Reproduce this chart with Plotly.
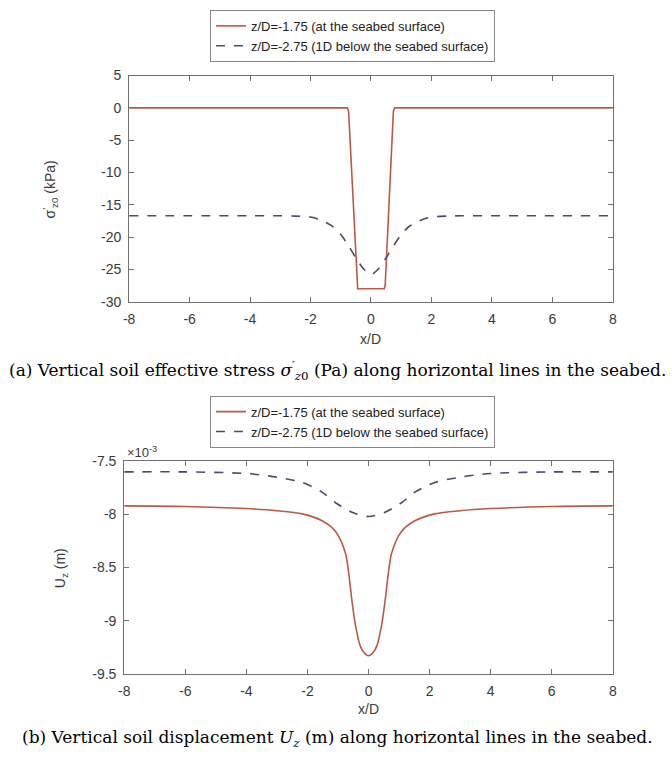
import plotly.graph_objects as go

W, H = 672, 763

# ---------- data (a): vertical effective stress (kPa) ----------
xa_surface = [-8, -2, -1, -0.78, -0.74, -0.6, -0.47, -0.44, 0, 0.44, 0.47, 0.6, 0.74, 0.78, 1, 2, 8]
sa_surface = [0, 0, 0, 0, -0.6, -14.5, -27.4, -28, -28, -28, -27.4, -14.5, -0.6, 0, 0, 0, 0]

xa_below = [-8, -4, -3, -2.5, -2, -1.75, -1.5, -1.25, -1, -0.75, -0.5, -0.25, 0,
            0.25, 0.5, 0.75, 1, 1.25, 1.5, 1.75, 2, 2.5, 3, 4, 8]
sa_below = [-16.7, -16.7, -16.7, -16.75, -16.9, -17.2, -17.7, -18.4, -19.6, -21.3, -23.2, -24.9, -25.8,
            -24.9, -23.2, -21.3, -19.6, -18.4, -17.7, -17.2, -16.9, -16.75, -16.7, -16.7, -16.7]

# ---------- data (b): vertical displacement (x 1e-3 m) ----------
xb_surface = [-8, -6, -4, -3, -2.17, -1.52, -1.08, -0.76, -0.65, -0.54, -0.43, -0.27, -0.12, 0,
              0.12, 0.27, 0.43, 0.54, 0.65, 0.76, 1.08, 1.52, 2.17, 3, 4, 6, 8]
ub_surface = [-7.92, -7.925, -7.945, -7.965, -7.995, -8.06, -8.16, -8.36, -8.55, -8.82, -9.04, -9.24, -9.31, -9.33,
              -9.31, -9.24, -9.04, -8.82, -8.55, -8.36, -8.16, -8.06, -7.995, -7.965, -7.945, -7.925, -7.92]

xb_below = [-8, -6, -4, -3, -2.17, -1.52, -1.08, -0.54, 0, 0.54, 1.08, 1.52, 2.17, 3, 4, 6, 8]
ub_below = [-7.6, -7.6, -7.615, -7.65, -7.7, -7.79, -7.89, -7.98, -8.02, -7.98, -7.89, -7.79, -7.7, -7.65, -7.615, -7.6, -7.6]

x_ticks = [-8, -6, -4, -2, 0, 2, 4, 6, 8]
x_ticklabels = ["-8", "-6", "-4", "-2", "0", "2", "4", "6", "8"]
ya_ticks = [5, 0, -5, -10, -15, -20, -25, -30]
ya_ticklabels = ["5", "0", "-5", "-10", "-15", "-20", "-25", "-30"]
yb_ticks = [-7.5, -8, -8.5, -9, -9.5]
yb_ticklabels = ["-7.5", "-8", "-8.5", "-9", "-9.5"]

name_surface = "z/D=-1.75 (at the seabed surface)"
name_below = "z/D=-2.75 (1D below the seabed surface)"

C_SOLID = "#BD5842"
C_DASH = "#4A4A6C"
AX = "#707070"
TXT = "#3a3a3a"
FONT = "Liberation Sans, Arial, sans-serif"
SERIF = "DejaVu Serif, serif"

fig = go.Figure()
fig.add_trace(go.Scatter(x=xa_surface, y=sa_surface, mode="lines", name=name_surface,
                         line=dict(color=C_SOLID, width=1.6), xaxis="x", yaxis="y", legend="legend"))
fig.add_trace(go.Scatter(x=xa_below, y=sa_below, mode="lines", name=name_below,
                         line=dict(color=C_DASH, width=1.6, dash="dash", shape="spline", smoothing=0.8),
                         xaxis="x", yaxis="y", legend="legend"))
fig.add_trace(go.Scatter(x=xb_surface, y=ub_surface, mode="lines", name=name_surface,
                         line=dict(color=C_SOLID, width=1.6, shape="spline", smoothing=0.8),
                         xaxis="x2", yaxis="y2", legend="legend2"))
fig.add_trace(go.Scatter(x=xb_below, y=ub_below, mode="lines", name=name_below,
                         line=dict(color=C_DASH, width=1.6, dash="dash", shape="spline", smoothing=0.8),
                         xaxis="x2", yaxis="y2", legend="legend2"))

def px_x(p):
    return p / W

def px_y(p):
    return 1 - p / H

axis_common = dict(showline=True, linecolor=AX, linewidth=1, mirror="ticks", ticks="inside",
                   ticklen=5, tickcolor=AX, showgrid=False, zeroline=False, ticklabelstandoff=4,
                   tickfont=dict(family=FONT, size=14, color=TXT))

legend_common = dict(xanchor="left", yanchor="top", xref="paper", yref="paper",
                     bgcolor="white", bordercolor="#888888", borderwidth=1,
                     font=dict(family=FONT, size=13, color="#222222"), tracegroupgap=0, itemwidth=30)

fig.update_layout(
    width=W, height=H, margin=dict(l=0, r=0, t=0, b=0),
    paper_bgcolor="white", plot_bgcolor="white",
    xaxis=dict(domain=[px_x(125), px_x(616)], range=[-8, 8], tickvals=x_ticks, ticktext=x_ticklabels,
               anchor="y", **axis_common),
    yaxis=dict(domain=[px_y(300), px_y(69)], range=[-30, 5], tickvals=ya_ticks, ticktext=ya_ticklabels,
               anchor="x", **axis_common),
    xaxis2=dict(domain=[px_x(120), px_x(616)], range=[-8, 8], tickvals=x_ticks, ticktext=x_ticklabels,
                anchor="y2", **axis_common),
    yaxis2=dict(domain=[px_y(680), px_y(463)], range=[-9.5, -7.5], tickvals=yb_ticks,
                ticktext=yb_ticklabels, anchor="x2", **axis_common),
    legend=dict(x=px_x(207), y=px_y(2), **legend_common),
    legend2=dict(x=px_x(207), y=px_y(396), **legend_common),
    showlegend=True,
)

annos = [
    dict(text="x/D", x=px_x(370), y=px_y(338), font=dict(family=FONT, size=14, color=TXT)),
    dict(text="x/D", x=px_x(368), y=px_y(716), font=dict(family=FONT, size=14, color=TXT)),
    dict(text="σ<sup>′</sup><sub>z0</sub> (kPa)", x=px_x(45), y=px_y(185), textangle=-90,
         font=dict(family=FONT, size=14, color=TXT)),
    dict(text="U<sub>z</sub> (m)", x=px_x(56), y=px_y(572), textangle=-90,
         font=dict(family=FONT, size=14, color=TXT)),
    dict(text="×10<sup>-3</sup>", x=px_x(121), y=px_y(453), xanchor="left",
         font=dict(family=FONT, size=13, color=TXT)),
    dict(text="(a) Vertical soil effective stress <i>σ</i><sup>′</sup><sub><i>z</i>0</sub> (Pa) along horizontal lines in the seabed.",
         x=0.5, y=px_y(370), font=dict(family=SERIF, size=17, color="#000000")),
    dict(text="(b) Vertical soil displacement <i>U<sub>z</sub></i> (m) along horizontal lines in the seabed.",
         x=0.5, y=px_y(746), font=dict(family=SERIF, size=17, color="#000000")),
]
for a in annos:
    a.setdefault("xanchor", "center")
    fig.add_annotation(xref="paper", yref="paper", showarrow=False, yanchor="middle", **a)

fig.write_html("out.html")
